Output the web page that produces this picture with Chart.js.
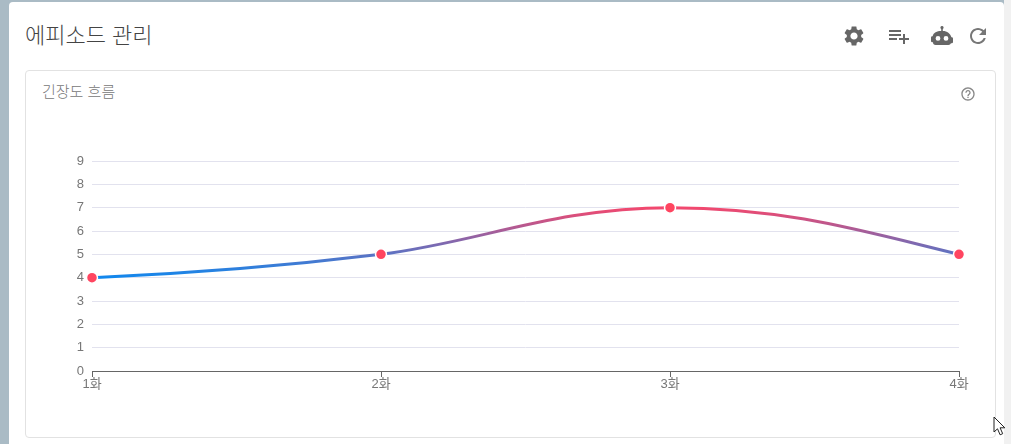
<!DOCTYPE html>
<html lang="ko">
<head>
<meta charset="utf-8">
<script src="https://cdn.jsdelivr.net/npm/chart.js@4"></script>
<style>
  html, body { margin: 0; padding: 0; width: 1011px; height: 444px; overflow: hidden; background: #aabbc5; font-family: "Noto Sans CJK KR", sans-serif; }
  #rightStrip { position: absolute; left: 1004px; top: 0; width: 7px; height: 444px; background: #f1f1f1; }
  #page { position: absolute; left: 9px; top: 2px; width: 995px; height: 442px; background: #fff; border-radius: 4px 4px 0 0; }
  #title { position: absolute; left: 25px; top: 18px; font-size: 22px; font-weight: 300; line-height: 30px; color: #444; }
  #panel { position: absolute; left: 25px; top: 70px; width: 969px; height: 366px; border: 1px solid #e2e2e2; border-radius: 4px; background: #fff; }
  #subtitle { position: absolute; left: 42px; top: 82px; font-size: 15px; font-weight: 300; line-height: 18px; color: #777; }
  #chartBox { position: absolute; left: 25px; top: 70px; width: 971px; height: 367px; }
  svg.icon { position: absolute; fill: #666; }
  #cursor { position: absolute; left: 993px; top: 416px; }
</style>
</head>
<body>
<div id="rightStrip"></div>
<div id="page"></div>
<div id="title">에피소드 관리</div>
<svg class="icon" style="left:842px;top:24px" width="24" height="24" viewBox="0 0 24 24"><path d="M19.14 12.94c.04-.3.06-.61.06-.94 0-.32-.02-.64-.07-.94l2.03-1.58c.18-.14.23-.41.12-.61l-1.92-3.32c-.12-.22-.37-.29-.59-.22l-2.39.96c-.5-.38-1.03-.7-1.62-.94l-.36-2.54c-.04-.24-.24-.41-.48-.41h-3.84c-.24 0-.43.17-.47.41l-.36 2.54c-.59.24-1.13.57-1.62.94l-2.39-.96c-.22-.08-.47 0-.59.22L2.74 8.87c-.12.21-.08.47.12.61l2.03 1.58c-.05.3-.09.63-.09.94s.02.64.07.94l-2.03 1.58c-.18.14-.23.41-.12.61l1.92 3.32c.12.22.37.29.59.22l2.39-.96c.5.38 1.03.7 1.62.94l.36 2.54c.05.24.24.41.48.41h3.84c.24 0 .44-.17.47-.41l.36-2.54c.59-.24 1.13-.56 1.62-.94l2.39.96c.22.08.47 0 .59-.22l1.92-3.32c.12-.22.07-.47-.12-.61l-2.01-1.58zM12 15.6c-1.98 0-3.6-1.62-3.6-3.6s1.62-3.6 3.6-3.6 3.6 1.62 3.6 3.6-1.62 3.6-3.6 3.6z"/></svg>
<svg class="icon" style="left:887px;top:24px" width="24" height="24" viewBox="0 0 24 24"><path d="M14 10H2v2h12v-2zm0-4H2v2h12V6zm4 8v-4h-2v4h-4v2h4v4h2v-4h4v-2h-4zM2 16h8v-2H2v2z"/></svg>
<svg class="icon" style="left:930px;top:25px" width="24" height="22" viewBox="0 0 24 22"><path fill-rule="evenodd" d="M12 1a1.6 1.6 0 0 1 .8 3v2h.2c4 0 7.5 2.600 8.400 6.200h.3a1.300 1.300 0 0 1 1.300 1.300v3.400a1.300 1.300 0 0 1-1.300 1.300h-.7a2.800 2.800 0 0 1-2.600 1.800H5.600A2.800 2.800 0 0 1 3 17.200h-.7A1.300 1.300 0 0 1 1 15.900v-3.400a1.300 1.300 0 0 1 1.300-1.300h.3C3.500 7.600 7 6 11 6h.2V4A1.600 1.600 0 0 1 12 1zM8 11a2.400 2.400 0 1 0 0 4.800A2.400 2.400 0 0 0 8 11zm8 0a2.400 2.400 0 1 0 0 4.800 2.400 2.400 0 0 0 0-4.800z"/></svg>
<svg class="icon" style="left:966px;top:24px;fill:#777" width="24" height="24" viewBox="0 0 24 24"><path d="M17.65 6.35C16.2 4.9 14.21 4 12 4c-4.42 0-7.99 3.58-7.99 8s3.57 8 7.99 8c3.73 0 6.84-2.55 7.73-6h-2.08c-.82 2.33-3.04 4-5.65 4-3.31 0-6-2.69-6-6s2.69-6 6-6c1.66 0 3.14.69 4.22 1.78L13 11h7V4l-2.35 2.35z"/></svg>
<div id="panel"></div>
<div id="subtitle">긴장도 흐름</div>
<svg class="icon" style="left:960px;top:86px;fill:#888" width="16" height="16" viewBox="0 0 24 24"><path d="M11 18h2v-2h-2v2zm1-16C6.48 2 2 6.48 2 12s4.48 10 10 10 10-4.48 10-10S17.52 2 12 2zm0 18c-4.41 0-8-3.59-8-8s3.59-8 8-8 8 3.59 8 8-3.59 8-8 8zm0-14c-2.21 0-4 1.79-4 4h2c0-1.1.9-2 2-2s2 .9 2 2c0 2-3 1.75-3 5h2c0-2.25 3-2.5 3-5 0-2.21-1.79-4-4-4z"/></svg>
<div id="chartBox"><canvas id="tensionChart"></canvas></div>
<svg id="cursor" width="13" height="20" viewBox="0 0 13 20"><path d="M1 1v15l3.500-3.200 2.600 6 2.600-1.100-2.600-5.900h4.700z" fill="#fff" stroke="#222" stroke-width="1"/></svg>

<script>
const categories = ['1화', '2화', '3화', '4화'];
const tension = [4, 5, 7, 5];

const tickFont = { family: '"Liberation Sans", "Noto Sans CJK KR", sans-serif', size: 13 };

// the reference curve has sloped ends, which Chart.js' own monotone mode flattens,
// so reset the bezier handles from the point pixels before the line is drawn
const sign = (v) => (v < 0 ? -1 : 1);
const monotoneCurve = {
  id: 'monotoneCurve',
  beforeDatasetsDraw(chart) {
    const meta = chart.getDatasetMeta(0);
    const pts = meta.data;
    meta.dataset.updateControlPoints(chart.chartArea);
    const n = pts.length;
    const s = [];
    for (let i = 0; i < n - 1; i++) s.push((pts[i + 1].y - pts[i].y) / (pts[i + 1].x - pts[i].x));
    const m = [];
    for (let i = 1; i < n - 1; i++) {
      const h0 = pts[i].x - pts[i - 1].x;
      const h1 = pts[i + 1].x - pts[i].x;
      const p = (s[i - 1] * h1 + s[i] * h0) / (h0 + h1);
      m[i] = (sign(s[i - 1]) + sign(s[i])) * Math.min(Math.abs(s[i - 1]), Math.abs(s[i]), 0.5 * Math.abs(p)) || 0;
    }
    m[0] = s[0] / 2;
    m[n - 1] = (3 * s[n - 2] - m[n - 2]) / 2;
    for (let i = 0; i < n - 1; i++) {
      const dx = pts[i + 1].x - pts[i].x;
      // flat tangents (the peak) get a longer handle
      const out = m[i] === 0 ? dx * 0.4 : dx / 3;
      const back = m[i + 1] === 0 ? dx * 0.4 : dx / 3;
      pts[i].cp2x = pts[i].x + out;
      pts[i].cp2y = pts[i].y + out * m[i];
      pts[i + 1].cp1x = pts[i + 1].x - back;
      pts[i + 1].cp1y = pts[i + 1].y - back * m[i + 1];
    }
  }
};

const ctx = document.getElementById('tensionChart').getContext('2d');
const tensionChart = new Chart(ctx, {
  type: 'line',
  plugins: [monotoneCurve],
  data: {
    labels: categories,
    datasets: [{
      label: '긴장도',
      data: tension,
      tension: 0.4,
      fill: false,
      borderWidth: 3,
      // vertical gradient between the lowest and highest value
      borderColor: function (context) {
        const { ctx, chartArea, scales } = context.chart;
        if (!chartArea) return '#1088ee';
        const y0 = scales.y.getPixelForValue(4);
        const y1 = scales.y.getPixelForValue(7);
        if (!isFinite(y0) || !isFinite(y1)) return '#1088ee';
        const g = ctx.createLinearGradient(0, y0, 0, y1);
        g.addColorStop(0, '#1088ee');
        g.addColorStop(1, '#f2486e');
        return g;
      },
      pointRadius: 5.5,
      pointBorderWidth: 1.5,
      pointBackgroundColor: '#ff4560',
      pointBorderColor: '#fff',
      clip: false
    }]
  },
  options: {
    responsive: true,
    maintainAspectRatio: false,
    animation: false,
    layout: { padding: { top: 91, right: 37, left: 0, bottom: 0 } },
    plugins: { legend: { display: false }, tooltip: { enabled: false } },
    scales: {
      x: {
        offset: false,
        afterFit: function (scale) { scale.height = 66; },
        border: { color: '#666', width: 1 },
        grid: { drawOnChartArea: false, drawTicks: true, tickLength: 6, tickColor: '#666' },
        ticks: { autoSkip: false, maxRotation: 0, padding: 0, color: '#777', font: tickFont }
      },
      y: {
        min: 0,
        max: 9,
        afterFit: function (scale) { scale.width = 67; },
        border: { display: false },
        grid: { color: '#e2e2ee', lineWidth: 1, drawTicks: false },
        ticks: { stepSize: 1, padding: 8, color: '#777', font: tickFont }
      }
    }
  }
});
</script>
</body>
</html>
